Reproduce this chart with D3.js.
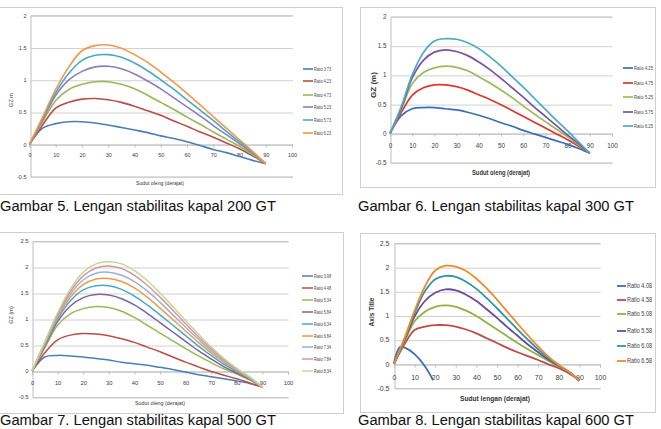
<!DOCTYPE html>
<html><head><meta charset="utf-8">
<script src="https://cdn.jsdelivr.net/npm/d3@7"></script>
<style>
html,body{margin:0;padding:0;background:#fff;overflow:hidden;}
svg{display:block;font-family:"Liberation Sans",Arial,sans-serif;}
</style></head><body>
<svg id="c" width="661" height="429"></svg>
<script>
// ---------- DATA ----------
const angles = [0,5,10,15,20,25,30,35,40,45,50,55,60,65,70,75,80,85,90];
const xTicks = [0,10,20,30,40,50,60,70,80,90,100];

// Gambar 5 – 200 GT
const g5Labels = ["Ratio 3.73","Ratio 4.23","Ratio 4.73","Ratio 5.23","Ratio 5.73","Ratio 6.23"];
const g5Ticks = [-0.5,0,0.5,1,1.5,2];
const g5R373 = [0,0.25,0.32,0.35,0.35,0.33,0.30,0.26,0.22,0.18,0.13,0.09,0.04,-0.02,-0.08,-0.13,-0.19,-0.25,-0.30];
const g5R423 = [0,0.30,0.56,0.65,0.70,0.71,0.69,0.65,0.59,0.52,0.45,0.36,0.28,0.19,0.11,0.02,-0.07,-0.18,-0.30];
const g5R473 = [0,0.35,0.68,0.85,0.93,0.97,0.97,0.93,0.86,0.76,0.65,0.54,0.42,0.31,0.19,0.08,-0.03,-0.16,-0.30];
const g5R523 = [0,0.38,0.76,1.00,1.13,1.20,1.21,1.17,1.09,0.98,0.86,0.72,0.58,0.44,0.29,0.15,0.01,-0.14,-0.30];
const g5R573 = [0,0.40,0.80,1.10,1.30,1.38,1.39,1.35,1.26,1.14,1.00,0.85,0.69,0.53,0.37,0.20,0.04,-0.13,-0.30];
const g5R623 = [0,0.42,0.85,1.20,1.45,1.53,1.54,1.49,1.39,1.27,1.12,0.96,0.79,0.61,0.43,0.25,0.07,-0.11,-0.30];

// Gambar 6 – 300 GT
const g6Labels = ["Ratio 4.25","Ratio 4.75","Ratio 5.25","Ratio 5.75","Ratio 6.25"];
const g6Ticks = [-0.5,0,0.5,1,1.5,2];
const g6R425 = [0,0.30,0.42,0.44,0.44,0.42,0.40,0.36,0.31,0.25,0.18,0.12,0.05,-0.01,-0.07,-0.13,-0.19,-0.26,-0.34];
const g6R475 = [0,0.35,0.65,0.78,0.83,0.83,0.80,0.74,0.66,0.58,0.49,0.39,0.29,0.19,0.09,-0.01,-0.11,-0.22,-0.34];
const g6R525 = [0,0.40,0.85,1.04,1.12,1.15,1.13,1.07,0.97,0.86,0.74,0.61,0.47,0.33,0.20,0.07,-0.06,-0.20,-0.34];
const g6R575 = [0,0.42,0.95,1.25,1.39,1.43,1.40,1.33,1.22,1.09,0.94,0.78,0.62,0.45,0.29,0.13,-0.03,-0.18,-0.34];
const g6R625 = [0,0.45,1.00,1.38,1.58,1.62,1.61,1.55,1.45,1.31,1.15,0.97,0.79,0.60,0.41,0.22,0.04,-0.15,-0.34];

// Gambar 7 – 500 GT
const g7Labels = ["Ratio 3.98","Ratio 4.48","Ratio 5.34","Ratio 5.84","Ratio 6.34","Ratio 6.84","Ratio 7.34","Ratio 7.84","Ratio 8.34"];
const g7Ticks = [-0.5,0,0.5,1,1.5,2,2.5];
const g7R398 = [0,0.27,0.30,0.29,0.27,0.24,0.21,0.17,0.14,0.11,0.07,0.03,-0.02,-0.07,-0.11,-0.15,-0.19,-0.24,-0.31];
const g7R448 = [0,0.35,0.60,0.69,0.72,0.71,0.68,0.62,0.55,0.46,0.37,0.27,0.17,0.08,-0.01,-0.08,-0.15,-0.23,-0.31];
const g7R534 = [0,0.45,0.88,1.10,1.20,1.24,1.22,1.15,1.03,0.88,0.73,0.58,0.43,0.29,0.16,0.04,-0.06,-0.17,-0.31];
const g7R584 = [0,0.48,0.95,1.25,1.41,1.47,1.46,1.39,1.27,1.11,0.93,0.75,0.57,0.39,0.23,0.08,-0.04,-0.16,-0.31];
const g7R634 = [0,0.50,1.00,1.35,1.56,1.64,1.64,1.57,1.44,1.27,1.08,0.88,0.68,0.48,0.30,0.13,-0.01,-0.15,-0.31];
const g7R684 = [0,0.52,1.03,1.42,1.66,1.77,1.78,1.72,1.60,1.42,1.21,0.99,0.77,0.55,0.35,0.17,0.01,-0.14,-0.31];
const g7R734 = [0,0.54,1.06,1.48,1.75,1.88,1.90,1.84,1.72,1.54,1.32,1.08,0.84,0.61,0.39,0.20,0.03,-0.13,-0.31];
const g7R784 = [0,0.55,1.09,1.53,1.83,1.98,2.02,1.97,1.84,1.65,1.42,1.17,0.91,0.66,0.43,0.22,0.04,-0.12,-0.31];
const g7R834 = [0,0.56,1.12,1.58,1.90,2.06,2.10,2.06,1.93,1.74,1.50,1.24,0.97,0.71,0.46,0.24,0.05,-0.11,-0.31];

// Gambar 8 – 600 GT
const g8Labels = ["Ratio 4.08","Ratio 4.58","Ratio 5.08","Ratio 5.58","Ratio 6.08","Ratio 6.58"];
const g8Ticks = [-0.5,0,0.5,1,1.5,2,2.5];
const g8AnglesShort = [0,3,6,10,15,19];
const g8R408 = [0.02,0.35,0.32,0.20,-0.05,-0.34];
const g8R458 = [0,0.40,0.70,0.77,0.80,0.80,0.77,0.71,0.63,0.53,0.43,0.33,0.24,0.16,0.08,-0.01,-0.09,-0.20,-0.35];
const g8R508 = [0,0.45,0.88,1.08,1.18,1.21,1.18,1.10,0.99,0.85,0.71,0.57,0.43,0.30,0.18,0.06,-0.05,-0.17,-0.35];
const g8R558 = [0,0.48,0.98,1.30,1.47,1.54,1.52,1.43,1.30,1.13,0.95,0.76,0.58,0.40,0.24,0.09,-0.04,-0.17,-0.35];
const g8R608 = [0,0.50,1.05,1.50,1.75,1.82,1.80,1.70,1.55,1.36,1.15,0.93,0.71,0.50,0.30,0.12,-0.03,-0.17,-0.35];
const g8R658 = [0,0.52,1.10,1.60,1.93,2.03,2.01,1.92,1.76,1.56,1.33,1.08,0.83,0.59,0.36,0.15,-0.02,-0.17,-0.35];

// ---------- DRAW ----------
const svg = d3.select("#c");

function panel(o){
  const g = svg.append("g");
  g.append("rect").attr("x",o.frame[0]+0.5).attr("y",o.frame[1]+0.5)
    .attr("width",o.frame[2]-o.frame[0]).attr("height",o.frame[3]-o.frame[1])
    .attr("fill","#fff").attr("stroke","#cfcfcf").attr("stroke-width",1);
  const x = d3.scaleLinear().domain([0,100]).range([o.px0,o.px1]);
  const y = d3.scaleLinear().domain([o.yTicks[0],o.yTicks[o.yTicks.length-1]]).range([o.py0,o.py1]);
  const ya = g.append("g").attr("transform",`translate(${Math.round(o.px0)+0.5},0)`)
    .call(d3.axisLeft(y).tickValues(o.yTicks).tickSize(-(o.px1-o.px0)).tickPadding(o.yPad).tickFormat(d=>String(d)));
  ya.select(".domain").attr("stroke","#bdbdbd");
  ya.selectAll(".tick line").attr("stroke","#d0d0d0").attr("transform","translate(0,0.5)");
  ya.selectAll(".tick text").attr("font-size",o.tickFs).attr("fill","#404040");
  const xa = g.append("g").attr("transform",`translate(0,${Math.round(y(0))+0.5})`)
    .call(d3.axisBottom(x).tickValues(xTicks).tickSize(3).tickPadding(o.xPad).tickFormat(d=>String(d)));
  xa.select(".domain").attr("stroke","#bdbdbd");
  xa.selectAll(".tick line").attr("stroke","#bdbdbd");
  xa.selectAll(".tick text").attr("font-size",o.tickFs).attr("fill","#404040");
  const line = d3.line().curve(d3.curveCatmullRom.alpha(0.5)).x(d=>x(d[0])).y(d=>y(d[1]));
  o.series.forEach((s,i)=>{
    const xs = s.angles || angles;
    g.append("path").datum(xs.map((a,k)=>[a,s.values[k]]))
      .attr("d",line).attr("fill","none").attr("stroke",o.colors[i])
      .attr("stroke-width",o.lw).attr("stroke-linejoin","round");
  });
  o.labels.forEach((lab,i)=>{
    const ly = o.legY[i];
    g.append("line").attr("x1",o.legX[0]).attr("x2",o.legX[1]).attr("y1",ly).attr("y2",ly)
      .attr("stroke",o.colors[i]).attr("stroke-width",o.lw);
    g.append("text").attr("x",o.legX[1]+1).attr("y",ly).attr("dy","0.35em")
      .attr("font-size",o.legFs).attr("fill","#404040")
      .attr("textLength",o.legW).attr("lengthAdjust","spacingAndGlyphs").text(lab);
  });
  g.append("text").attr("x",o.xTitle[0]).attr("y",o.xTitle[1]).attr("text-anchor","middle")
    .attr("dy","0.35em").attr("font-size",o.xTitleFs).attr("font-weight",o.titleBold?"bold":null)
    .attr("fill","#333").attr("textLength",o.xTitleW).attr("lengthAdjust","spacingAndGlyphs").text(o.xTitleText);
  g.append("text").attr("transform",`translate(${o.yTitle[0]},${o.yTitle[1]}) rotate(-90)`)
    .attr("text-anchor","middle").attr("dy","0.35em").attr("font-size",o.yTitleFs)
    .attr("font-weight",o.titleBold?"bold":null).attr("fill","#333").text(o.yTitleText);
  svg.append("text").attr("x",o.cap[0]).attr("y",o.cap[1]).attr("font-size",14.7)
    .attr("fill","#111").text(o.capText);
}

panel({
  frame:[-2,7,342,194], px0:29.5, px1:292, py0:176.5, py1:15.3, yTicks:g5Ticks,
  series:[g5R373,g5R423,g5R473,g5R523,g5R573,g5R623].map(v=>({values:v})),
  colors:["#4a7ebb","#be4b48","#98b954","#8e7cc3","#46aac5","#f79646"],
  labels:g5Labels, legX:[303,313], legY:[69,81,95,107,120,133], legFs:5.5, legW:17,
  lw:1.6, tickFs:5.5, yPad:4, xPad:6,
  xTitle:[160,183], xTitleText:"Sudut oleng (derajat)", xTitleFs:5.5, xTitleW:48,
  yTitle:[11,100], yTitleText:"GZ m", yTitleFs:5.5,
  cap:[0,211], capText:"Gambar 5. Lengan stabilitas kapal 200 GT"
});

panel({
  frame:[360,7,655,187], px0:390, px1:612, py0:162.5, py1:16.5, yTicks:g6Ticks,
  series:[g6R425,g6R475,g6R525,g6R575,g6R625].map(v=>({values:v})),
  colors:["#3a6fb7","#e0352b","#9bbb59","#7b52a6","#4bacc6"],
  labels:g6Labels, legX:[623,633], legY:[68,83,97,112,126], legFs:5.8, legW:19,
  lw:1.7, tickFs:6.3, yPad:4, xPad:7, titleBold:true,
  xTitle:[501,172], xTitleText:"Sudut oleng (derajat)", xTitleFs:7.5, xTitleW:58,
  yTitle:[373,85], yTitleText:"GZ (m)", yTitleFs:8,
  cap:[358,211], capText:"Gambar 6. Lengan stabilitas kapal 300 GT"
});

panel({
  frame:[-2,232,343,413], px0:32, px1:288, py0:397, py1:241, yTicks:g7Ticks,
  series:[g7R398,g7R448,g7R534,g7R584,g7R634,g7R684,g7R734,g7R784,g7R834].map(v=>({values:v})),
  colors:["#4a7ebb","#be4b48","#98b954","#7d60a0","#46aac5","#f79646","#95b3d7","#d99694","#c3d69b"],
  labels:g7Labels, legX:[302,313], legY:[276,288,300,312,324,336,347,359,371], legFs:5.3, legW:17,
  lw:1.5, tickFs:5.8, yPad:4, xPad:6,
  xTitle:[160,403], xTitleText:"Sudut oleng (derajat)", xTitleFs:5.5, xTitleW:50,
  yTitle:[11,315], yTitleText:"GZ (m)", yTitleFs:5.5,
  cap:[0,424.5], capText:"Gambar 7. Lengan stabilitas kapal 500 GT"
});

panel({
  frame:[360,233,655,412], px0:394, px1:600, py0:388, py1:243, yTicks:g8Ticks,
  series:[{values:g8R408,angles:g8AnglesShort}].concat([g8R458,g8R508,g8R558,g8R608,g8R658].map(v=>({values:v}))),
  colors:["#3a6fb7","#be4b48","#8db43f","#6a4a9c","#3394a9","#f08a2c"],
  labels:g8Labels, legX:[617,626], legY:[286,300,314,331,346,361], legFs:6.3, legW:25,
  lw:1.8, tickFs:7, yPad:5, xPad:8, titleBold:true,
  xTitle:[495,398], xTitleText:"Sudut lengan (derajat)", xTitleFs:8, xTitleW:70,
  yTitle:[372,312], yTitleText:"Axis Title", yTitleFs:6.5,
  cap:[358,424.5], capText:"Gambar 8. Lengan stabilitas kapal 600 GT"
});
</script>
</body></html>
